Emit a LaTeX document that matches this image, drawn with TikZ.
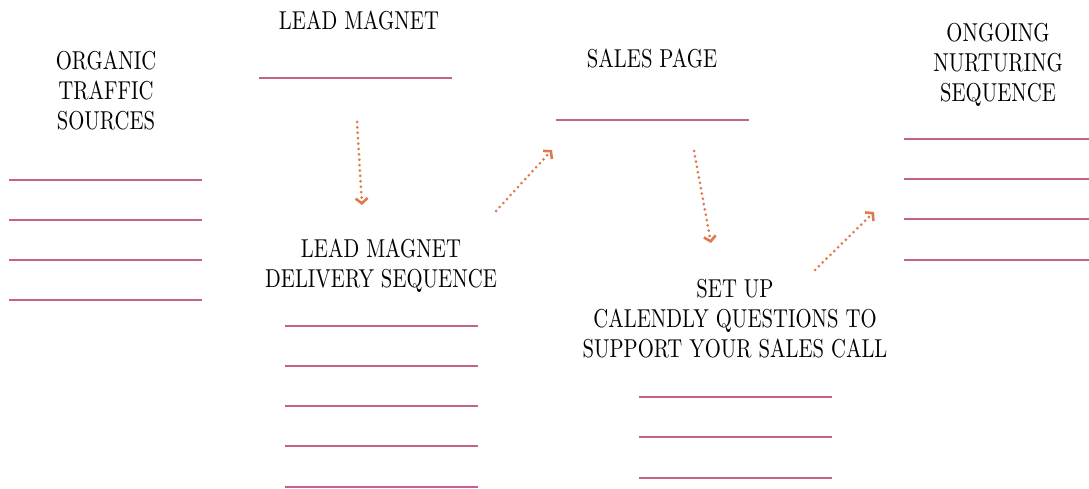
\documentclass[tikz,border=0pt]{standalone}
\usepackage{fontspec}
\setmainfont{lmroman10-regular.otf}
\usepackage{graphicx}
\usetikzlibrary{arrows.meta}
\definecolor{rule}{RGB}{196,98,140}
\definecolor{arr}{RGB}{226,120,78}
\newcommand\lbl[1]{\scalebox{1}[1.25]{\begin{tabular}[t]{@{}c@{}}#1\end{tabular}}}
\begin{document}
\begin{tikzpicture}[x=1pt,y=-1pt,
  title/.style={inner sep=0pt,anchor=base,font=\fontsize{20.7}{24}\selectfont},
  rl/.style={draw=rule,line width=1.1pt},
  flow/.style={draw=arr,line width=3pt,line cap=round,dash pattern=on 0pt off 5.4pt,
    -{Straight Barb[length=5pt,width=12pt,line width=2.6pt]}}]
\useasboundingbox (0,0) rectangle (1089,489);
% titles
\node[title] (lm) at (359,30) {\lbl{LEAD MAGNET}};
\node[title] (ots) at (106,70) {\lbl{ORGANIC\\TRAFFIC\\SOURCES}};
\node[title] (lmd) at (381,257) {\lbl{LEAD MAGNET\\DELIVERY SEQUENCE}};
\node[title] (sp) at (652,68) {\lbl{SALES PAGE}};
\node[title] (cal) at (735,297) {\lbl{SET UP\\CALENDLY QUESTIONS TO\\SUPPORT YOUR SALES CALL}};
\node[title] (ons) at (998,42) {\lbl{ONGOING\\NURTURING\\SEQUENCE}};
% rules
\draw[rl] (259,78) -- (452,78);
\foreach \y in {180,220,260,300} \draw[rl] (9,\y) -- (202,\y);
\foreach \y in {326,366,406,446,487} \draw[rl] (285,\y) -- (478,\y);
\draw[rl] (556,120) -- (749,120);
\foreach \y in {397,437,478} \draw[rl] (639,\y) -- (832,\y);
\foreach \y in {139,179,219,260} \draw[rl] (904,\y) -- (1089,\y);
% arrows
\coordinate (a1s) at (357,122); \coordinate (a1e) at (362,205);
\coordinate (a2s) at (496,211); \coordinate (a2e) at (552,150);
\coordinate (a3s) at (694,151); \coordinate (a3e) at (711,243);
\coordinate (a4s) at (815,270); \coordinate (a4e) at (874,212);
\draw[flow] (a1s) -- (a1e);
\draw[flow] (a2s) -- (a2e);
\draw[flow] (a3s) -- (a3e);
\draw[flow] (a4s) -- (a4e);
\end{tikzpicture}
\end{document}
